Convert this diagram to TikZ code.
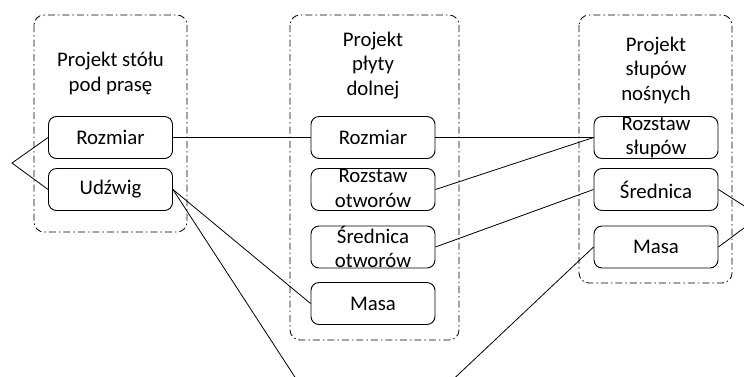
\documentclass[tikz,border=0pt]{standalone}
\usepackage{fontspec}
\setmainfont{Carlito}
\begin{document}
\begin{tikzpicture}[x=1pt,y=-1pt,
  group/.style={draw, line width=0.8pt, rounded corners=10pt,
    dash pattern=on 7pt off 3pt on 1.5pt off 3pt},
  item/.style={draw, line width=0.9pt, rounded corners=8pt,
    minimum width=124pt, minimum height=42pt, inner sep=0pt},
  txt/.style={align=center, inner sep=0pt,
    font=\fontsize{20.8}{24.5}\selectfont},
  link/.style={line width=0.8pt}]
\useasboundingbox (0,0) rectangle (744,376);
\clip (0,0) rectangle (744,376);

% dash-dot group frames
\draw[group] (34,15) rectangle (187,232);
\draw[group] (290,15) rectangle (459,340);
\draw[group] (579,15) rectangle (732,283);

% group titles (base anchor sits on the last line)
\node[txt, anchor=base] (tL) at (110.5,91) {Projekt stółu\\pod prasę};
\node[txt, anchor=base] (tM) at (373,95) {Projekt\\płyty\\dolnej};
\node[txt, anchor=base] (tR) at (656,100) {Projekt\\słupów\\nośnych};

% left group
\node[item] (L1) at (110.5,137.5) {};
\node[item] (L2) at (110.5,189.5) {};
% middle group
\node[item] (M1) at (373,137.5) {};
\node[item] (M2) at (373,189.5) {};
\node[item] (M3) at (373,247) {};
\node[item] (M4) at (373,303.5) {};
% right group
\node[item] (R1) at (656,137.5) {};
\node[item] (R2) at (656,189.5) {};
\node[item] (R3) at (656,247) {};

% item labels
\node[txt] (L1t) at (L1.center) {Rozmiar};
\node[txt] (L2t) at (L2.center) {Udźwig};
\node[txt] (M1t) at (M1.center) {Rozmiar};
\node[txt] (M2t) at ([yshift=1pt]M2.center) {Rozstaw\\otworów};
\node[txt] (M3t) at (M3.center) {Średnica\\otworów};
\node[txt] (M4t) at (M4.center) {Masa};
\node[txt] (R1t) at (R1.center) {Rozstaw\\słupów};
\node[txt] (R2t) at (R2.center) {Średnica};
\node[txt] (R3t) at (R3.center) {Masa};

% junction points
\coordinate (vl) at (12,163);
\coordinate (vr) at (760,216);
\coordinate (vb) at (356,471);

% connectors
\draw[link] (L1.west) -- (vl) -- (L2.west);
\draw[link] (L1.east) -- (M1.west);
\draw[link] (M1.east) -- (R1.west);
\draw[link] (M2.east) -- (R1.west);
\draw[link] (M3.east) -- (R2.west);
\draw[link] (L2.east) -- (M4.west);
\draw[link] (L2.east) -- (vb) -- (R3.west);
\draw[link] (R2.east) -- (vr) -- (R3.east);
\end{tikzpicture}
\end{document}
